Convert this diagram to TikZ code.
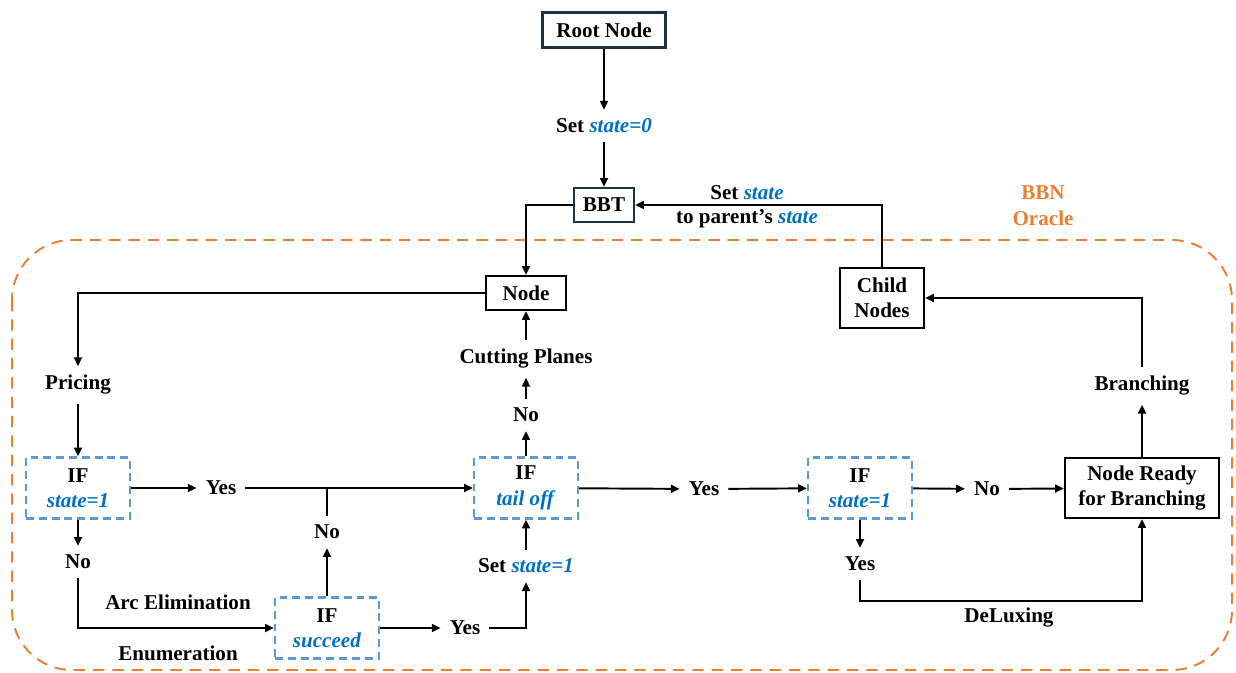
\documentclass[tikz,border=0pt]{standalone}
\usepackage{fontspec}
\setmainfont{Liberation Serif}
\definecolor{statblue}{HTML}{0070C0}
\definecolor{dashblue}{HTML}{5B9BD5}
\definecolor{oracle}{HTML}{ED7D31}
\definecolor{framenavy}{HTML}{1B3344}
\usetikzlibrary{arrows.meta, positioning, calc}
\newcommand{\blu}[1]{\textcolor{statblue}{\textit{#1}}}
\tikzset{
  box/.style={
    draw=#1, line width=1.3pt, fill=white, minimum height=0.68cm,
    font=\fontsize{12}{14.5}\selectfont\bfseries, align=center, inner sep=3pt
  },
  box/.default=black,
  ifbox/.style={
    draw=dashblue, dash pattern=on 4.5pt off 2.8pt, line width=1.25pt,
    minimum width=2.08cm, minimum height=1.22cm,
    font=\fontsize{12}{14.5}\selectfont\bfseries, align=center
  },
  lbl/.style={font=\fontsize{12}{14.5}\selectfont\bfseries, align=center, inner sep=5pt},
  arr/.style={-{Triangle[length=5pt,width=4.5pt]}, line width=1.1pt},
  ln/.style={line width=1.1pt},
}

\begin{document}
\begin{tikzpicture}
    \useasboundingbox (0,0) rectangle (24.72,-13.46);

    % BBN oracle frame
    \draw[oracle, line width=1.1pt, dash pattern=on 6.5pt off 4.5pt, rounded corners=1.2cm]
      (0.24,-4.80) rectangle (24.64,-13.40);
    \node[lbl, text=oracle] (bbn) at (20.86,-4.11) {BBN\\Oracle};

    \node[box=framenavy, minimum width=2.46cm, minimum height=0.7cm] (root) at (12.08,-0.60) {Root Node};
    \node[lbl] (set0) at (12.08,-2.52) {Set \blu{state=0}};
    \node[box=framenavy, minimum width=1.2cm] (bbt) at (12.08,-4.10) {BBT};
    \node[lbl, inner sep=1pt] (setlbl) at (14.94,-3.86) {Set \blu{state}};
    \node[lbl, inner sep=1pt] (parentlbl) at (14.94,-4.38) {to parent's \blu{state}};

    \node[box, minimum width=1.6cm] (node) at (10.52,-5.86) {Node};
    \node[box, minimum width=1.68cm, minimum height=1.2cm] (child) at (17.64,-5.96) {Child\\Nodes};

    \node[lbl] (pricing) at (1.56,-7.70) {Pricing};
    \node[ifbox] (if1) at (1.56,-9.76) {IF\\\blu{state=1}};
    \node[lbl] (yes1) at (4.42,-9.76) {Yes};
    \node[lbl] (no1) at (1.56,-11.24) {No};
    \node[ifbox] (if3) at (6.54,-12.56) {IF\\\blu{succeed}};
    \node[lbl] (no2) at (6.54,-10.64) {No};
    \node[lbl] (arc) at (3.56,-12.04) {Arc Elimination};
    \node[lbl] (enum) at (3.56,-13.06) {Enumeration};
    \node[lbl] (yes3) at (9.30,-12.56) {Yes};

    \node[ifbox] (if2) at (10.52,-9.76) {IF\\\blu{tail off}};
    \node[lbl] (setone) at (10.52,-11.32) {Set \blu{state=1}};
    \node[lbl] (no3) at (10.52,-8.30) {No};
    \node[lbl] (cut) at (10.52,-7.18) {Cutting Planes};

    \node[lbl] (yes4) at (14.08,-9.78) {Yes};
    \node[ifbox] (if4) at (17.20,-9.76) {IF\\\blu{state=1}};
    \node[lbl] (no4) at (19.74,-9.78) {No};
    \node[box, minimum width=3.08cm, minimum height=1.2cm] (nrb) at (22.84,-9.76) {Node Ready\\for Branching};
    \node[lbl] (yes5) at (17.20,-11.28) {Yes};
    \coordinate (dlx) at (17.20,-12.02);
    \node[lbl] (delux) at (20.18,-12.36) {DeLuxing};
    \node[lbl] (branch) at (22.84,-7.72) {Branching};

    % top part
    \draw[arr] (root) -- (set0);
    \draw[arr] (set0) -- (bbt);
    \draw[arr] (bbt.west) -| (node.north);
    \draw[arr] (child.north) |- (bbt.east);
    \draw[arr] (node.west) -| (pricing.north);

    % left loop
    \draw[arr] (pricing) -- (if1);
    \draw[arr] (if1) -- (yes1);
    \draw[arr] (yes1) -- (if2);
    \draw[arr] (if1) -- (no1);
    \draw[arr] (no1) |- (if3);
    \draw[arr] (if3) -- (no2);
    \draw[ln] (no2) -- (no2 |- yes1);
    \draw[arr] (if3) -- (yes3);
    \draw[arr] (yes3) -| (setone);
    \draw[arr] (setone) -- (if2);
    \draw[arr] (if2) -- (no3);
    \draw[arr] (no3) -- (cut);
    \draw[arr] (cut) -- (node);

    % right part
    \draw[arr] (if2) -- (yes4);
    \draw[arr] (yes4) -- (if4);
    \draw[arr] (if4) -- (no4);
    \draw[arr] (no4) -- (nrb);
    \draw[arr] (if4) -- (yes5);
    \draw[arr] (yes5) -- (dlx) -| (nrb);
    \draw[arr] (nrb) -- (branch);
    \draw[arr] (branch) |- (child);
  \end{tikzpicture}
\end{document}
